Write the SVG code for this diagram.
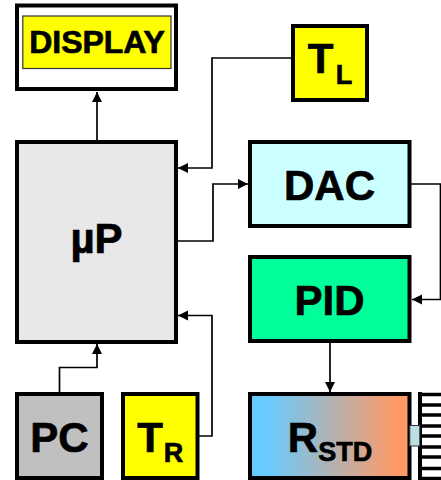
<svg xmlns="http://www.w3.org/2000/svg" width="441" height="480" viewBox="0 0 441 480">
<style>
.b{stroke:#000;stroke-width:4}
.t{font-family:"Liberation Sans",Arial,sans-serif;font-weight:bold;fill:#000;text-anchor:middle;stroke:#000;stroke-width:0.7}
.c{fill:none;stroke:#000;stroke-width:1.7;marker-end:url(#a)}
</style>
<defs>
<marker id="a" markerUnits="userSpaceOnUse" markerWidth="11" markerHeight="11" refX="10" refY="5.500" orient="auto"><path d="M0,0.500 L10,5.500 L0,10.500 Z" fill="#000"/></marker>
<linearGradient id="g" x1="0" x2="1" y1="0" y2="0"><stop offset="0.1" stop-color="#66ccff"/><stop offset="0.92" stop-color="#ff9966"/></linearGradient>
</defs>
<g id="connectors">
<path class="c" d="M97,141 V92"/>
<path class="c" d="M291,58 H212 V168 H178"/>
<path class="c" d="M178,241 H213 V184 H248"/>
<path class="c" d="M411,184 H440.500 V299.500 H412"/>
<path class="c" d="M330,343 V392"/>
<path class="c" d="M59.500,392 V367.500 H97 V344"/>
<path class="c" d="M199,436 H212 V315.500 H178"/>
</g>
<g id="display">
<rect class="b" x="17" y="5.500" width="159" height="83.500" fill="#fff"/>
<rect x="22.800" y="16" width="148.200" height="52.500" fill="#ff0" stroke="#333" stroke-width="1.200"/>
<text class="t" x="97" y="52.700" font-size="32">DISPLAY</text>
</g>
<g id="up">
<rect class="b" x="17" y="142" width="159" height="200" fill="#e8e8e8"/>
<text class="t" x="96.500" y="253" font-size="42">µP</text>
</g>
<g id="tl">
<rect class="b" x="293" y="26" width="74" height="74" fill="#ff0"/>
<text class="t" x="320.500" y="73" font-size="42">T</text>
<text class="t" x="344" y="83.500" font-size="27">L</text>
</g>
<g id="dac">
<rect class="b" x="250" y="142" width="159.500" height="84" fill="#ccffff"/>
<text class="t" x="329.500" y="199.500" font-size="42">DAC</text>
</g>
<g id="pid">
<rect class="b" x="250" y="257" width="159.500" height="84" fill="#00ff99"/>
<text class="t" x="329.500" y="315" font-size="42">PID</text>
</g>
<g id="pc">
<rect class="b" x="17" y="394" width="85" height="84" fill="#c0c0c0"/>
<text class="t" x="59.500" y="452" font-size="42">PC</text>
</g>
<g id="tr">
<rect class="b" x="123" y="394" width="74.500" height="84" fill="#ff0"/>
<text class="t" x="150" y="452" font-size="42">T</text>
<text class="t" x="173.500" y="461.500" font-size="27">R</text>
</g>
<g id="rstd">
<rect class="b" x="250" y="394" width="159.500" height="84" fill="url(#g)"/>
<text class="t" x="330" y="452"><tspan font-size="42">R</tspan><tspan font-size="27" dy="9">STD</tspan></text>
</g>
<g id="heatsink">
<path d="M420,392 V480" stroke="#000" stroke-width="4" fill="none"/>
<path d="M420,394.500 H441 M420,405 H441 M420,415 H441 M420,426 H441 M420,436 H441 M420,447 H441 M420,457 H441 M420,468.500 H441 M420,478.500 H441" stroke="#000" stroke-width="3.600" fill="none"/>
<rect x="409.800" y="425.500" width="10" height="20.500" fill="#bbe0e3" stroke="#333" stroke-width="1"/>
</g>
</svg>
